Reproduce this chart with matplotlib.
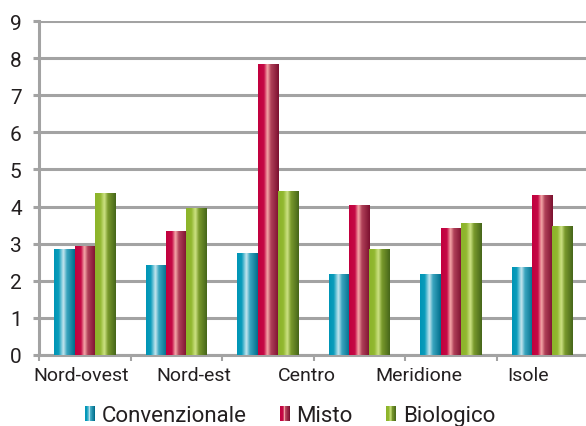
import numpy as np
import matplotlib
matplotlib.use("Agg")
import matplotlib.pyplot as plt
from matplotlib.patches import Rectangle
from matplotlib.legend_handler import HandlerBase
from matplotlib.colors import to_rgb

# --- data -------------------------------------------------------------
series_names = ["Convenzionale", "Misto", "Biologico"]
convenzionale = [2.85, 2.42, 2.75, 2.18, 2.18, 2.37]
misto = [2.93, 3.34, 7.85, 4.04, 3.42, 4.31]
biologico = [4.37, 3.96, 4.42, 2.85, 3.56, 3.47]
region_labels = ["Nord-ovest", "Nord-est", "Centro", "Meridione", "Isole"]
y_ticks = [0, 1, 2, 3, 4, 5, 6, 7, 8, 9]

# --- style ------------------------------------------------------------
FONT = ["Roboto", "DejaVu Sans"]
plt.rcParams["font.family"] = FONT
TEXT = "#231f20"
GRID = "#a3a3a3"

# cylinder-like shading: (position across bar, colour)
gradients = {
    "Convenzionale": [(0.0, "#0095b6"), (0.22, "#0a9cbb"), (0.45, "#c6e6ef"),
                      (0.62, "#3aa5bf"), (1.0, "#006e8c")],
    "Misto": [(0.0, "#c2003e"), (0.28, "#c40a45"), (0.45, "#f6a9aa"),
              (0.62, "#b04058"), (1.0, "#7c1030")],
    "Biologico": [(0.0, "#8cb42a"), (0.25, "#92b830"), (0.45, "#cde284"),
                  (0.62, "#7a9a2c"), (1.0, "#46661a")],
}


def gradient_row(stops, n=64):
    pos = np.array([p for p, _ in stops])
    cols = np.array([to_rgb(c) for _, c in stops])
    t = np.linspace(0, 1, n)
    return np.stack([np.interp(t, pos, cols[:, k]) for k in range(3)], axis=-1)


class GradientHandler(HandlerBase):
    def __init__(self, stops, **kw):
        super().__init__(**kw)
        self.row = gradient_row(stops, 16)

    def create_artists(self, legend, orig_handle, xdescent, ydescent,
                       width, height, fontsize, trans):
        arts = []
        n = len(self.row)
        for i, c in enumerate(self.row):
            r = Rectangle((-xdescent + width * i / n, -ydescent),
                          width / n * 1.05, height, facecolor=c,
                          edgecolor="none", transform=trans)
            arts.append(r)
        return arts


W, H = 586, 427
fig = plt.figure(figsize=(W / 100, H / 100), dpi=100)
ax = fig.add_axes([39 / W, 71.3 / H, 549 / W, 333.4 / H])

x = np.arange(len(convenzionale))
bw = 2 / 9
values = [convenzionale, misto, biologico]
handles = []
for k, (name, vals) in enumerate(zip(series_names, values)):
    stops = gradients[name]
    bars = ax.bar(x + (k - 1) * bw, vals, width=bw, color=stops[0][1],
                  linewidth=0, zorder=3, label=name)
    img = gradient_row(stops)[None, :, :]
    for p in bars.patches:
        x0, y0 = p.get_x(), p.get_y()
        im = ax.imshow(img, extent=[x0, x0 + p.get_width(), y0, y0 + p.get_height()],
                       aspect="auto", interpolation="bilinear", zorder=4)
        im.set_clip_path(p)
    handles.append(bars)

ax.set_xlim(-0.5, len(x) - 0.5)
ax.set_ylim(0, 9)

# grid and axes lines
ax.set_yticks(y_ticks)
ax.set_yticklabels([str(v) for v in y_ticks])
ax.yaxis.grid(True, color=GRID, linewidth=2.2, zorder=0)
ax.set_axisbelow(True)
for s in ("top", "right"):
    ax.spines[s].set_visible(False)
for s in ("left", "bottom"):
    ax.spines[s].set_color(GRID)
    ax.spines[s].set_linewidth(2.2)
ax.tick_params(axis="y", length=4.5, width=2.2, color=GRID, pad=8,
               labelsize=15, labelcolor=TEXT)

# category separators on the x axis
ax.set_xticks(np.arange(-0.5, len(x) - 0.4, 1.0))
ax.set_xticklabels([])
ax.tick_params(axis="x", length=4, width=1.5, color=GRID)

label_pos = [-0.035, 1.194, 2.426, 3.65, 4.85]
trans = matplotlib.transforms.blended_transform_factory(ax.transData, ax.transAxes)
for lab, xp in zip(region_labels, label_pos):
    ax.text(xp, -0.06, lab, transform=trans, ha="center", va="center",
            fontsize=14, color=TEXT)

leg = fig.legend(handles, series_names, loc="center",
                 bbox_to_anchor=(290 / W, 10 / H), ncol=3, frameon=False,
                 fontsize=16, handlelength=0.45, handleheight=0.65,
                 handletextpad=0.3, columnspacing=1.5,
                 borderpad=0.2,
                 handler_map={h: GradientHandler(gradients[n])
                              for h, n in zip(handles, series_names)})
for t in leg.get_texts():
    t.set_color(TEXT)

fig.savefig("out.png", dpi=100)
